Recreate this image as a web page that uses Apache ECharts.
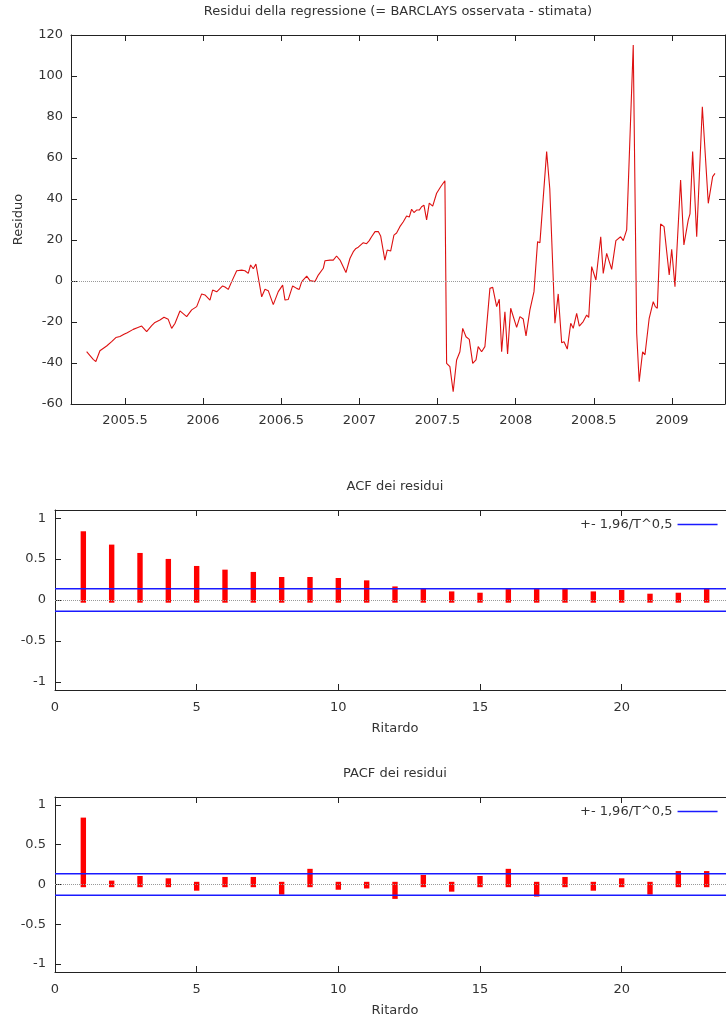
<!DOCTYPE html>
<html>
<head>
<meta charset="utf-8">
<script src="https://cdn.jsdelivr.net/npm/echarts@6/dist/echarts.min.js"></script>
<style>
  html, body { margin: 0; background: #fff; overflow: hidden; width: 726px; height: 1022px; }
  #residuiChart, #acfChart, #pacfChart { position: absolute; left: 0; }
  #residuiChart { top: 0; width: 726px; height: 450px; }
  #acfChart { top: 470px; width: 760px; height: 275px; }
  #pacfChart { top: 757px; width: 760px; height: 265px; }
</style>
</head>
<body>
<div id="residuiChart"></div>
<div id="acfChart"></div>
<div id="pacfChart"></div>
<script>
// residui settimanali [anno, valore]
const residui = [
  [2005.255,-34.5],[2005.297,-38.2],[2005.314,-39.3],[2005.340,-34],[2005.383,-31.7],[2005.415,-29.6],
  [2005.442,-27.6],[2005.468,-27.1],[2005.494,-26],[2005.515,-25.2],[2005.553,-23.6],[2005.579,-22.8],
  [2005.607,-22],[2005.639,-24.7],[2005.671,-21.8],[2005.692,-20.2],[2005.724,-19],[2005.750,-17.7],
  [2005.777,-18.7],[2005.799,-23.1],[2005.820,-20.7],[2005.852,-14.6],[2005.895,-17.4],[2005.927,-14.1],
  [2005.959,-12.5],[2005.991,-6.3],[2006.012,-6.8],[2006.044,-9.3],[2006.061,-4.4],[2006.087,-5.3],
  [2006.125,-2.4],[2006.140,-2.9],[2006.161,-4.1],[2006.183,-0.3],[2006.215,5],[2006.247,5.3],
  [2006.268,5],[2006.289,3.7],[2006.304,7.8],[2006.321,6],[2006.338,8.3],[2006.375,-7.7],
  [2006.396,-4],[2006.417,-4.7],[2006.449,-11.5],[2006.481,-5.2],[2006.509,-2],[2006.524,-9.3],
  [2006.545,-9],[2006.573,-2.4],[2006.599,-3.6],[2006.615,-4.1],[2006.631,-0.3],[2006.663,2.4],
  [2006.684,0.2],[2006.716,-0.3],[2006.737,2.9],[2006.769,6.2],[2006.780,9.9],[2006.812,10.2],
  [2006.833,10.2],[2006.854,12.2],[2006.876,10.2],[2006.914,4.1],[2006.940,11.1],[2006.961,14.3],
  [2006.978,15.9],[2006.993,16.5],[2007.004,16],[2007.025,18.7],[2007.046,18.2],[2007.063,19.7],
  [2007.078,21.6],[2007.100,24.1],[2007.121,24.1],[2007.136,22],[2007.163,10.2],[2007.178,15.1],
  [2007.200,14.6],[2007.221,22.4],[2007.238,23.4],[2007.259,26.5],[2007.281,28.9],[2007.302,31.7],
  [2007.319,31.2],[2007.334,35],[2007.349,33.4],[2007.366,34.6],[2007.383,34.6],[2007.398,36.2],
  [2007.413,37],[2007.430,29.8],[2007.447,38],[2007.469,36.5],[2007.494,42.8],[2007.520,46],
  [2007.547,48.9],[2007.558,-40.2],[2007.579,-41.8],[2007.600,-54],[2007.622,-38.5],[2007.643,-34.5],
  [2007.661,-23.1],[2007.682,-27.2],[2007.703,-28.5],[2007.725,-40.2],[2007.746,-38.5],[2007.760,-32],
  [2007.782,-34.5],[2007.803,-32],[2007.835,-3.6],[2007.853,-3.1],[2007.878,-12.5],[2007.895,-8.9],
  [2007.910,-34.5],[2007.931,-15],[2007.948,-35.6],[2007.968,-13.3],[2008.006,-22.6],[2008.027,-17.4],
  [2008.048,-18.5],[2008.066,-26.8],[2008.091,-14.1],[2008.117,-5.2],[2008.140,19.2],[2008.155,18.7],
  [2008.198,63.1],[2008.218,45],[2008.251,-20.6],[2008.272,-6.3],[2008.294,-30.1],[2008.309,-29.6],
  [2008.330,-33.2],[2008.352,-20.6],[2008.368,-23.1],[2008.390,-15.8],[2008.407,-22],[2008.432,-19.8],
  [2008.454,-16.6],[2008.467,-17.8],[2008.486,7],[2008.513,0.5],[2008.544,21.6],[2008.560,3.7],
  [2008.582,13.5],[2008.614,5.7],[2008.641,19.7],[2008.671,21.6],[2008.688,19.7],[2008.710,24.9],
  [2008.752,115.1],[2008.774,-25.5],[2008.790,-49.1],[2008.812,-34.5],[2008.827,-36],[2008.854,-18.2],
  [2008.880,-10.1],[2008.893,-12.5],[2008.906,-13.3],[2008.927,27.8],[2008.949,26.5],[2008.982,2.9],
  [2008.998,15.5],[2009.019,-2.8],[2009.055,49.3],[2009.076,17.6],[2009.104,29.8],[2009.115,32.7],
  [2009.132,63.1],[2009.158,21.6],[2009.194,85],[2009.232,37.9],[2009.260,50.9],[2009.275,52.5]
];
const tickAnni = [2005.5, 2006, 2006.5, 2007, 2007.5, 2008, 2008.5, 2009];

const ritardi = [1,2,3,4,5,6,7,8,9,10,11,12,13,14,15,16,17,18,19,20,21,22,23];
const acf = [0.807, 0.644, 0.542, 0.469, 0.383, 0.338, 0.310, 0.248, 0.248, 0.236, 0.207, 0.133,
             0.114, 0.072, 0.056, 0.109, 0.109, 0.109, 0.072, 0.089, 0.044, 0.056, 0.109];
const pacf = [0.807, 0.015, 0.073, 0.044, -0.044, 0.061, 0.061, -0.093, 0.163, -0.032, -0.016, -0.147,
              0.086, -0.056, 0.073, 0.163, -0.118, 0.061, -0.044, 0.044, -0.093, 0.135, 0.135];
const banda = 0.1365; // 1,96/T^0,5
const tickRitardi = [0, 5, 10, 15, 20];
const tickCorr = [-1, -0.5, 0, 0.5, 1];

const FONT = 'DejaVu Sans';
const FS = 13;
const TESTO = '#333';
const ASSE = '#222';
const nomeBanda = '+- 1,96/T^0,5';

// asse con tacche verso l'interno, stile gnuplot
function asse(extra) {
  return Object.assign({
    type: 'value',
    axisLine: { show: true, onZero: false, lineStyle: { color: ASSE, width: 1 } },
    axisTick: { show: true, inside: true, length: 6, lineStyle: { color: ASSE } },
    axisLabel: { color: TESTO, fontFamily: FONT, fontSize: FS },
    splitLine: { show: false }
  }, extra);
}

const residuiChart = echarts.init(document.getElementById('residuiChart'));
residuiChart.setOption({
  animation: false,
  title: {
    text: 'Residui della regressione (= BARCLAYS osservata - stimata)',
    left: 398, top: 5, textAlign: 'center', padding: 0,
    textStyle: { fontFamily: FONT, fontSize: FS, fontWeight: 'normal', color: TESTO }
  },
  grid: { left: 71, top: 35, width: 654, height: 369 },
  xAxis: [
    asse({ position: 'bottom', min: 2005.155, max: 2009.339,
      axisTick: { inside: true, length: 6, lineStyle: { color: ASSE }, customValues: tickAnni },
      axisLabel: { color: TESTO, fontFamily: FONT, fontSize: FS, margin: 10, customValues: tickAnni,
        formatter: v => String(v) } }),
    asse({ position: 'top', min: 2005.155, max: 2009.339,
      axisTick: { inside: true, length: 6, lineStyle: { color: ASSE }, customValues: tickAnni },
      axisLabel: { show: false } })
  ],
  yAxis: [
    asse({ position: 'left', min: -60, max: 120, interval: 20,
      axisLabel: { color: TESTO, fontFamily: FONT, fontSize: FS, margin: 8 },
      name: 'Residuo', nameLocation: 'middle', nameGap: 46, nameRotate: 90,
      nameTextStyle: { color: TESTO, fontFamily: FONT, fontSize: FS } }),
    asse({ position: 'right', min: -60, max: 120, interval: 20, axisLabel: { show: false } })
  ],
  series: [{
    type: 'line',
    data: residui,
    symbol: 'none',
    lineStyle: { color: '#dd1111', width: 1.1 },
    markLine: {
      silent: true, symbol: 'none', label: { show: false },
      lineStyle: { color: '#999', type: 'dotted', width: 1 },
      data: [{ yAxis: 0 }]
    }
  }]
});

function correlogramma(dom, titolo, valori) {
  const chart = echarts.init(document.getElementById(dom));
  const meta = 2.7;
  chart.setOption({
    animation: false,
    title: {
      text: titolo, left: 395, top: 10, textAlign: 'center', padding: 0,
      textStyle: { fontFamily: FONT, fontSize: FS, fontWeight: 'normal', color: TESTO }
    },
    legend: {
      left: 580, top: 48, align: 'right', icon: 'rect', itemWidth: 40, itemHeight: 1.5,
      itemGap: 8, padding: 0,
      textStyle: { color: TESTO, fontFamily: FONT, fontSize: FS },
      data: [nomeBanda]
    },
    grid: { left: 55, top: 40, width: 680, height: 180 },
    xAxis: [
      asse({ position: 'bottom', min: 0, max: 24,
        axisTick: { inside: true, length: 6, lineStyle: { color: ASSE }, customValues: tickRitardi },
        axisLabel: { color: TESTO, fontFamily: FONT, fontSize: FS, margin: 11, customValues: tickRitardi },
        name: 'Ritardo', nameLocation: 'middle', nameGap: 32,
        nameTextStyle: { color: TESTO, fontFamily: FONT, fontSize: FS } }),
      asse({ position: 'top', min: 0, max: 24,
        axisTick: { inside: true, length: 6, lineStyle: { color: ASSE }, customValues: tickRitardi },
        axisLabel: { show: false } })
    ],
    yAxis: [
      asse({ position: 'left', min: -1.1, max: 1.1,
        axisTick: { inside: true, length: 6, lineStyle: { color: ASSE }, customValues: tickCorr },
        axisLabel: { color: TESTO, fontFamily: FONT, fontSize: FS, margin: 9, customValues: tickCorr } }),
      asse({ position: 'right', min: -1.1, max: 1.1,
        axisTick: { inside: true, length: 6, lineStyle: { color: ASSE }, customValues: tickCorr },
        axisLabel: { show: false } })
    ],
    series: [
      {
        type: 'custom',
        name: 'corr',
        data: ritardi.map((r, i) => [r, valori[i]]),
        renderItem: (params, api) => {
          const p0 = api.coord([api.value(0), 0]);
          const p1 = api.coord([api.value(0), api.value(1)]);
          const y0 = Math.min(p0[1], p1[1]) - meta;
          const y1 = Math.max(p0[1], p1[1]) + meta;
          return {
            type: 'rect',
            shape: { x: p0[0] - meta, y: y0, width: 2 * meta, height: y1 - y0 },
            style: { fill: '#ff0000' }
          };
        },
        markLine: {
          silent: true, symbol: 'none', label: { show: false },
          lineStyle: { color: '#999', type: 'dotted', width: 1 },
          data: [{ yAxis: 0 }]
        },
        z: 2
      },
      {
        type: 'line', name: nomeBanda, symbol: 'none', z: 3,
        lineStyle: { color: '#1a1aff', width: 1.5 }, itemStyle: { color: '#1a1aff' },
        data: [[0, banda], [24, banda]]
      },
      {
        type: 'line', name: nomeBanda, symbol: 'none', z: 3,
        lineStyle: { color: '#1a1aff', width: 1.5 }, itemStyle: { color: '#1a1aff' },
        data: [[0, -banda], [24, -banda]]
      }
    ]
  });
  return chart;
}

correlogramma('acfChart', 'ACF dei residui', acf);
correlogramma('pacfChart', 'PACF dei residui', pacf);
</script>
</body>
</html>
